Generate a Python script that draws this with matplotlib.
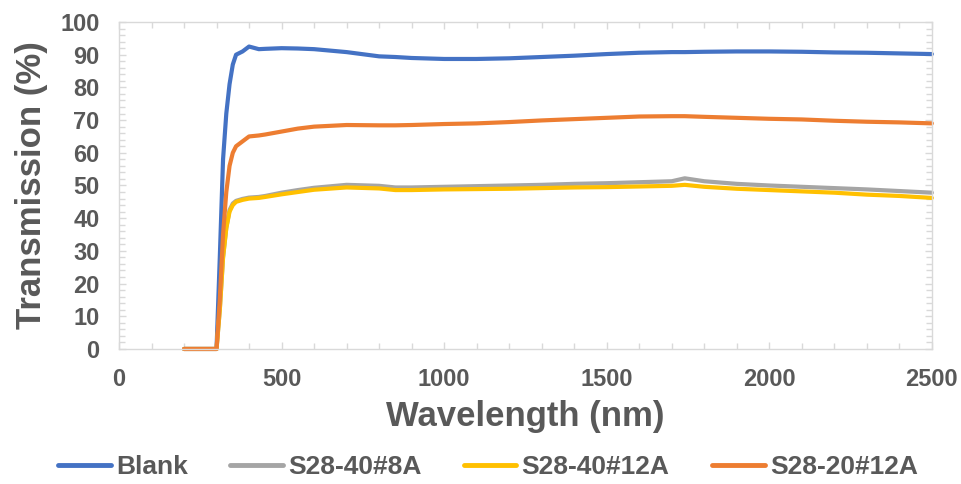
import matplotlib
matplotlib.use("Agg")
import matplotlib.pyplot as plt
from matplotlib.ticker import MultipleLocator

plt.rcParams['font.family'] = ['Liberation Sans', 'DejaVu Sans']
plt.rcParams['font.weight'] = 'bold'

# Wavelength grid (nm)
wavelength = [200, 300, 310, 320, 330, 340, 350, 360, 380, 400, 430, 450, 500, 550,
              600, 700, 800, 850, 900, 1000, 1100, 1200, 1300, 1400, 1500, 1600,
              1700, 1740, 1800, 1900, 2000, 2100, 2200, 2300, 2400, 2500]

# Transmission (%)
blank = [0, 0, 28, 58, 72, 81, 87, 90, 91, 92.5, 91.7, 91.8, 92, 91.9,
         91.7, 90.8, 89.5, 89.3, 89, 88.7, 88.7, 88.9, 89.3, 89.7, 90.2, 90.6,
         90.8, 90.8, 90.9, 91, 91, 90.9, 90.7, 90.6, 90.4, 90.2]
s28_40_8a = [0, 0, 12, 28, 37, 42.5, 44.5, 45.3, 45.9, 46.3, 46.5, 46.8, 47.8, 48.6,
             49.3, 50.2, 49.9, 49.4, 49.4, 49.6, 49.8, 50, 50.2, 50.5, 50.7, 51,
             51.3, 52.2, 51.3, 50.5, 50, 49.6, 49.2, 48.8, 48.3, 47.8]
s28_40_12a = [0, 0, 12, 28, 37, 42, 44, 45, 45.6, 46, 46.2, 46.5, 47.3, 48,
              48.7, 49.4, 49.1, 48.6, 48.6, 48.8, 48.9, 49, 49.2, 49.4, 49.5, 49.7,
              49.9, 50.2, 49.6, 49, 48.6, 48.2, 47.8, 47.2, 46.8, 46.2]
s28_20_12a = [0, 0, 15, 35, 48, 56, 60, 62, 63.5, 65, 65.3, 65.6, 66.5, 67.4,
              68, 68.5, 68.4, 68.4, 68.5, 68.8, 69, 69.4, 69.9, 70.3, 70.7, 71.1,
              71.2, 71.2, 71, 70.7, 70.4, 70.2, 69.8, 69.5, 69.3, 69.0]

series = [
    ("Blank", blank, "#4472C4"),
    ("S28-40#8A", s28_40_8a, "#A5A5A5"),
    ("S28-40#12A", s28_40_12a, "#FFC000"),
    ("S28-20#12A", s28_20_12a, "#ED7D31"),
]

text_color = "#595959"
spine_color = "#D9D9D9"

fig = plt.figure(figsize=(9.62, 4.84), dpi=100)
ax = fig.add_axes([0.1237, 0.279, 0.845, 0.6755])

for name, values, color in series:
    ax.plot(wavelength, values, color=color, lw=3.0, label=name,
            solid_capstyle='round', solid_joinstyle='round', clip_on=False)

ax.set_xlim(0, 2500)
ax.set_ylim(0, 100)
ax.xaxis.set_major_locator(MultipleLocator(500))
ax.xaxis.set_minor_locator(MultipleLocator(100))
ax.yaxis.set_major_locator(MultipleLocator(10))
ax.yaxis.set_minor_locator(MultipleLocator(2))

for s in ax.spines.values():
    s.set_color(spine_color)
    s.set_linewidth(1.0)

ax.tick_params(which='both', direction='in', top=True, right=True,
               color=spine_color, labelcolor=text_color, labelsize=17)
ax.tick_params(which='major', length=5, width=1)
ax.tick_params(which='minor', length=4, width=1)
ax.tick_params(axis='y', which='major', pad=14)
ax.tick_params(axis='x', which='major', pad=14)
for lab in ax.get_xticklabels() + ax.get_yticklabels():
    lab.set_fontweight('bold')

ax.set_xlabel("Wavelength (nm)", fontsize=25, fontweight='bold',
              color=text_color, labelpad=6)
ax.set_ylabel("Transmission (%)", fontsize=25, fontweight='bold',
              color=text_color, labelpad=9)

leg = fig.legend(loc='center', bbox_to_anchor=(0.507, 0.035), ncol=4,
                 frameon=False, fontsize=19, handlelength=2.0,
                 handletextpad=0.2, columnspacing=1.6)
for t in leg.get_texts():
    t.set_color(text_color)
    t.set_fontweight('bold')
for h in leg.legend_handles:
    h.set_linewidth(3.5)

fig.savefig("out.png", dpi=100)
